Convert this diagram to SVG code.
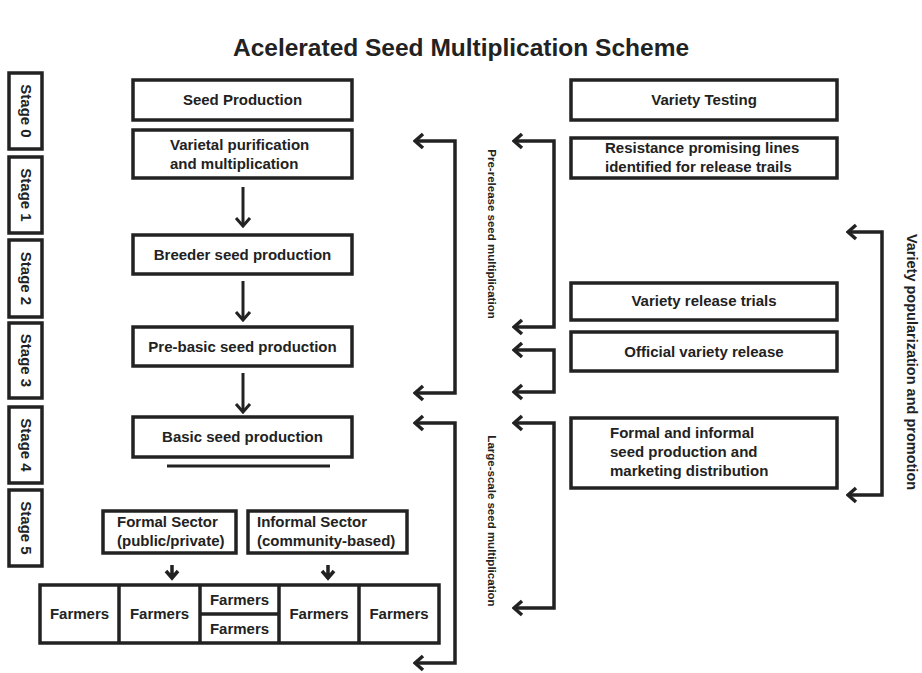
<svg xmlns="http://www.w3.org/2000/svg" width="922" height="673" viewBox="0 0 922 673">
<defs>
<style>
.box{fill:#fff;stroke:#222;stroke-width:3.5}
.t{font-family:"Liberation Sans",Arial,sans-serif;font-weight:bold;font-size:15px;fill:#222}
.c{text-anchor:middle}
.ln{fill:none;stroke:#222;stroke-width:3.5}
.br{fill:none;stroke:#222;stroke-width:3.5;marker-start:url(#ah);marker-end:url(#ah)}
.da{fill:none;stroke:#222;stroke-width:3;marker-end:url(#dh)}
</style>
<marker id="ah" viewBox="0 0 12 18" refX="10" refY="9" markerWidth="12" markerHeight="18" orient="auto-start-reverse" markerUnits="userSpaceOnUse">
<path d="M2,2 L10,9 L2,16" fill="none" stroke="#222" stroke-width="3.5"/>
</marker>
<marker id="dh" viewBox="0 0 12 18" refX="10" refY="9" markerWidth="12" markerHeight="18" orient="auto" markerUnits="userSpaceOnUse">
<path d="M2,2 L10,9 L2,16" fill="none" stroke="#222" stroke-width="3"/>
</marker>
</defs>
<rect width="922" height="673" fill="#fff"/>
<text id="title" class="t c" x="461" y="56" style="font-size:24.5px">Acelerated Seed Multiplication Scheme</text>

<g id="stage0"><rect class="box" x="9" y="73" width="33" height="76"/><text class="t c" transform="translate(25.5,111) rotate(90)" dy="5">Stage 0</text></g>
<g id="stage1"><rect class="box" x="9" y="157" width="33" height="76"/><text class="t c" transform="translate(25.5,195) rotate(90)" dy="5">Stage 1</text></g>
<g id="stage2"><rect class="box" x="9" y="240" width="33" height="77"/><text class="t c" transform="translate(25.5,278.5) rotate(90)" dy="5">Stage 2</text></g>
<g id="stage3"><rect class="box" x="9" y="323" width="33" height="75"/><text class="t c" transform="translate(25.5,360.5) rotate(90)" dy="5">Stage 3</text></g>
<g id="stage4"><rect class="box" x="9" y="407" width="33" height="76"/><text class="t c" transform="translate(25.5,445) rotate(90)" dy="5">Stage 4</text></g>
<g id="stage5"><rect class="box" x="9" y="490" width="33" height="76"/><text class="t c" transform="translate(25.5,528) rotate(90)" dy="5">Stage 5</text></g>

<g id="seed-production"><rect class="box" x="133" y="80" width="219" height="40"/><text class="t c" x="242.5" y="105">Seed Production</text></g>
<g id="varietal"><rect class="box" x="133" y="130" width="219" height="48"/><text class="t" x="170" y="150">Varietal purification</text><text class="t" x="170" y="169">and multiplication</text></g>
<g id="breeder"><rect class="box" x="133" y="235" width="219" height="39"/><text class="t c" x="242.5" y="260">Breeder seed production</text></g>
<g id="prebasic"><rect class="box" x="133" y="327" width="219" height="39"/><text class="t c" x="242.5" y="352">Pre-basic seed production</text></g>
<g id="basic"><rect class="box" x="133" y="417" width="219" height="40"/><text class="t c" x="242.5" y="442">Basic seed production</text></g>
<g id="formal-sector"><rect class="box" x="103" y="511" width="133" height="42"/><text class="t" x="117" y="527">Formal Sector</text><text class="t" x="117" y="546">(public/private)</text></g>
<g id="informal-sector"><rect class="box" x="248" y="511" width="159" height="42"/><text class="t" x="257" y="527">Informal Sector</text><text class="t" x="257" y="546">(community-based)</text></g>

<g id="farmers">
<rect class="box" x="40" y="585" width="399" height="58"/>
<path class="ln" d="M119,585 V643 M200,585 V643 M279,585 V643 M359,585 V643 M200,614 H279"/>
<text class="t c" x="79.5" y="619">Farmers</text>
<text class="t c" x="159.5" y="619">Farmers</text>
<text class="t c" x="239.5" y="605">Farmers</text>
<text class="t c" x="239.5" y="634">Farmers</text>
<text class="t c" x="319" y="619">Farmers</text>
<text class="t c" x="399" y="619">Farmers</text>
</g>

<g id="variety-testing"><rect class="box" x="571" y="80" width="266" height="40"/><text class="t c" x="704" y="105">Variety Testing</text></g>
<g id="resistance"><rect class="box" x="571" y="138" width="266" height="40"/><text class="t" x="605" y="153">Resistance promising lines</text><text class="t" x="605" y="172">identified for release trails</text></g>
<g id="release-trials"><rect class="box" x="571" y="283" width="266" height="37"/><text class="t c" x="704" y="306">Variety release trials</text></g>
<g id="official-release"><rect class="box" x="571" y="332" width="266" height="39"/><text class="t c" x="704" y="357">Official variety release</text></g>
<g id="formal-informal"><rect class="box" x="571" y="418" width="266" height="70"/><text class="t" x="610" y="438">Formal and informal</text><text class="t" x="610" y="457">seed production and</text><text class="t" x="610" y="476">marketing distribution</text></g>

<g id="connectors">
<path class="da" d="M243,187 V226"/>
<path class="da" d="M243,281 V320"/>
<path class="da" d="M243,373 V412"/>
<path class="ln" d="M167,466 H330" style="stroke-width:3"/>
<path class="ln" d="M172,565 V577 M166,571 L172,578 L178,571"/>
<path class="ln" d="M328,565 V577 M322,571 L328,578 L334,571"/>
<path class="br" d="M415,141 H455 V393 H415"/>
<path class="br" d="M514,141 H554 V327 H514"/>
<path class="br" d="M514,350 H554 V392 H514"/>
<path class="br" d="M415,423 H455 V663 H415"/>
<path class="br" d="M514,423 H554 V608 H514"/>
<path class="br" d="M848,232 H882 V495 H848"/>
</g>

<text class="t c" transform="translate(492,234) rotate(90)" dy="4" style="font-size:11.5px">Pre-release seed multiplication</text>
<text class="t c" transform="translate(492,521) rotate(90)" dy="4" style="font-size:11.5px">Large-scale seed multiplication</text>
<text class="t c" transform="translate(912,362) rotate(90)" dy="5" style="font-size:14.5px">Variety popularization and promotion</text>
</svg>
